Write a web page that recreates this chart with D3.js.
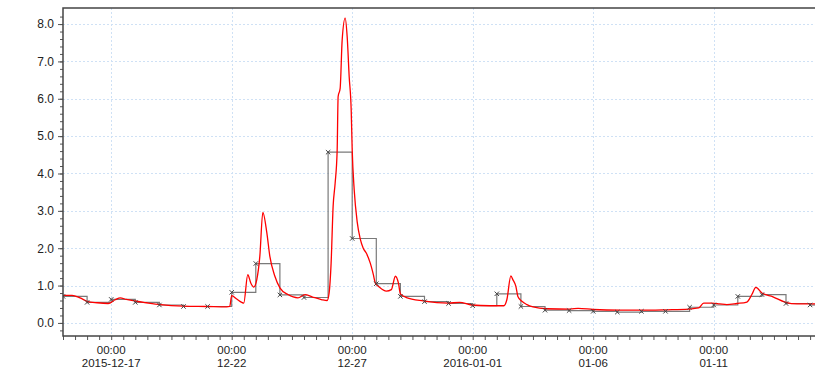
<!DOCTYPE html>
<html>
<head>
<meta charset="utf-8">
<script src="https://cdn.jsdelivr.net/npm/d3@7.9.0/dist/d3.min.js"></script>
<style>
  body { margin: 0; background: #fff; }
  svg { display: block; font-family: Arial, "Liberation Sans", sans-serif; }
</style>
</head>
<body>
<div id="chart"></div>
<script>
const width = 815;
const height = 370;
const margin = { top: 8, right: -2, bottom: 34, left: 63 };

// daily step series (one value per day from 2015-12-15)
const stepStart = "2015-12-15T00:00";
const stepValues = [
  0.71, 0.55, 0.63, 0.55, 0.48, 0.44, 0.44, 0.82, 1.59, 0.75,
  0.68, 4.57, 2.26, 1.05, 0.71, 0.57, 0.52, 0.46, 0.78, 0.44,
  0.34, 0.33, 0.31, 0.29, 0.31, 0.31, 0.42, 0.48, 0.71, 0.76,
  0.52, 0.48
];

// continuous (red) series: hours after stepStart, value
const redHours = [
  0, 9, 17, 24, 34, 45, 52, 57, 63, 73,
  83, 97, 120, 143, 163, 166, 168, 173, 178, 180,
  184, 187, 190, 193, 196, 199, 203, 206, 211, 216,
  224, 234, 241, 248, 258, 263, 265, 267, 269, 271,
  273, 274, 276, 278, 281, 283, 285, 287, 288, 290,
  293, 296, 299, 302, 306, 309, 311, 315, 322, 327,
  331, 334, 336, 342, 359, 383, 395, 407, 425, 439,
  442, 446, 448, 451, 453, 457, 462, 468, 482, 505,
  513, 528, 555, 585, 601, 623, 633, 638, 646, 654,
  661, 671, 681, 686, 690, 696, 707, 719, 731, 747,
  760
];
const redValues = [
  0.74, 0.74, 0.67, 0.58, 0.54, 0.52, 0.62, 0.67, 0.63, 0.58,
  0.54, 0.49, 0.45, 0.44, 0.43, 0.44, 0.73, 0.64, 0.55, 0.53,
  1.29, 1.07, 0.96, 1.16, 1.78, 2.96, 2.41, 1.78, 1.25, 0.94,
  0.76, 0.67, 0.76, 0.70, 0.62, 0.60, 0.80, 1.60, 3.12, 3.74,
  4.60, 6.06, 6.28, 7.57, 8.16, 7.66, 6.59, 5.70, 4.63, 3.56,
  2.70, 2.25, 2.00, 1.87, 1.60, 1.30, 1.07, 0.96, 0.85, 0.89,
  1.25, 1.07, 0.78, 0.68, 0.59, 0.53, 0.55, 0.48, 0.46, 0.46,
  0.62, 1.26, 1.16, 0.98, 0.71, 0.58, 0.49, 0.43, 0.38, 0.37,
  0.39, 0.36, 0.34, 0.34, 0.35, 0.37, 0.40, 0.53, 0.53, 0.51,
  0.49, 0.52, 0.56, 0.76, 0.95, 0.80, 0.70, 0.56, 0.51, 0.51,
  0.51
];

// labelled x ticks
const xLabelDates = ["2015-12-17", "2015-12-22", "2015-12-27", "2016-01-01", "2016-01-06", "2016-01-11"];
const xLabelText = ["2015-12-17", "12-22", "12-27", "2016-01-01", "01-06", "01-11"];
const yMajorTicks = [0, 1, 2, 3, 4, 5, 6, 7, 8];

const parse = d3.timeParse("%Y-%m-%dT%H:%M");
const parseDay = d3.timeParse("%Y-%m-%d");
const start = parse(stepStart);

const stepData = stepValues.map((v, i) => ({ t: d3.timeDay.offset(start, i), v }));
const redData = redHours.map((h, i) => ({ t: d3.timeHour.offset(start, h), v: redValues[i] }));

const plotW = width - margin.left - margin.right;
const plotH = height - margin.top - margin.bottom;

const x = d3.scaleTime()
  .domain([start, d3.timeDay.offset(start, 31)])
  .range([margin.left, margin.left + 31 * 24.1]);

const y = d3.scaleLinear()
  .domain([-0.35, 8.43])
  .range([margin.top + plotH, margin.top]);

const svg = d3.select("#chart").append("svg")
  .attr("width", width)
  .attr("height", height);

svg.append("clipPath").attr("id", "clip")
  .append("rect")
  .attr("x", margin.left).attr("y", margin.top)
  .attr("width", plotW).attr("height", plotH);

// grid
const grid = svg.append("g").attr("class", "grid")
  .attr("stroke", "#cfe1f5")
  .attr("stroke-dasharray", "2,2")
  .attr("stroke-width", 1);

grid.selectAll("line.h")
  .data(yMajorTicks)
  .join("line")
  .attr("class", "h")
  .attr("x1", margin.left).attr("x2", margin.left + plotW)
  .attr("y1", d => Math.round(y(d)) + 0.5)
  .attr("y2", d => Math.round(y(d)) + 0.5);

grid.selectAll("line.v")
  .data(xLabelDates.map(d => parseDay(d)))
  .join("line")
  .attr("class", "v")
  .attr("y1", margin.top).attr("y2", margin.top + plotH)
  .attr("x1", d => Math.round(x(d)) + 0.5)
  .attr("x2", d => Math.round(x(d)) + 0.5);

const plot = svg.append("g").attr("clip-path", "url(#clip)");

// step series
plot.append("path")
  .datum(stepData)
  .attr("fill", "none")
  .attr("stroke", "#7a7a7a")
  .attr("stroke-width", 1.2)
  .attr("d", d3.line().curve(d3.curveStepAfter).x(d => x(d.t)).y(d => y(d.v)));

// last step runs on to the right edge
const last = stepData[stepData.length - 1];
plot.append("line")
  .attr("x1", x(last.t))
  .attr("x2", width)
  .attr("y1", y(last.v))
  .attr("y2", y(last.v))
  .attr("stroke", "#7a7a7a")
  .attr("stroke-width", 1.2);

// red series
plot.append("path")
  .datum(redData)
  .attr("fill", "none")
  .attr("stroke", "#ff0000")
  .attr("stroke-width", 1.3)
  .attr("stroke-linejoin", "round")
  .attr("d", d3.line().curve(d3.curveMonotoneX).x(d => x(d.t)).y(d => y(d.v)));

// markers
const m = 2.2;
plot.selectAll("path.mark")
  .data(stepData)
  .join("path")
  .attr("class", "mark")
  .attr("stroke", "#444")
  .attr("stroke-width", 1)
  .attr("fill", "none")
  .attr("d", d => {
    const cx = x(d.t), cy = y(d.v);
    return `M${cx - m},${cy - m}L${cx + m},${cy + m}M${cx - m},${cy + m}L${cx + m},${cy - m}`;
  });

// y axis ticks
const yAxisG = svg.append("g").attr("transform", `translate(${margin.left},0)`);
yAxisG.call(d3.axisLeft(y).tickValues(d3.range(-0.2, 8.3, 0.2)).tickSize(3).tickFormat(""));
yAxisG.append("g").call(d3.axisLeft(y).tickValues(yMajorTicks).tickSize(5).tickPadding(4).tickFormat(d3.format(".1f")));
yAxisG.selectAll(".domain").remove();
yAxisG.selectAll("line").attr("stroke", "#555");
yAxisG.selectAll("text")
  .attr("font-size", 12)
  .attr("fill", "#222")
  .attr("font-family", "Arial, 'Liberation Sans', sans-serif");

// x axis ticks every 12 hours
const xAxisG = svg.append("g").attr("transform", `translate(0,${margin.top + plotH})`);
xAxisG.call(d3.axisBottom(x)
  .ticks(d3.timeHour.every(12))
  .tickSize(4)
  .tickFormat(""));
xAxisG.selectAll(".domain").remove();
xAxisG.selectAll("line").attr("stroke", "#555");

// x labels (two lines)
const labels = svg.append("g")
  .attr("font-size", 11.5)
  .attr("fill", "#222")
  .attr("text-anchor", "middle");

xLabelDates.forEach((d, i) => {
  const tx = x(parseDay(d));
  labels.append("text").attr("x", tx).attr("y", 353.5).text("00:00");
  labels.append("text").attr("x", tx).attr("y", 367).text(xLabelText[i]);
});

// frame
svg.append("rect")
  .attr("x", margin.left).attr("y", margin.top)
  .attr("width", plotW + 10).attr("height", plotH)
  .attr("fill", "none")
  .attr("stroke", "#444")
  .attr("stroke-width", 1.5);
</script>
</body>
</html>
